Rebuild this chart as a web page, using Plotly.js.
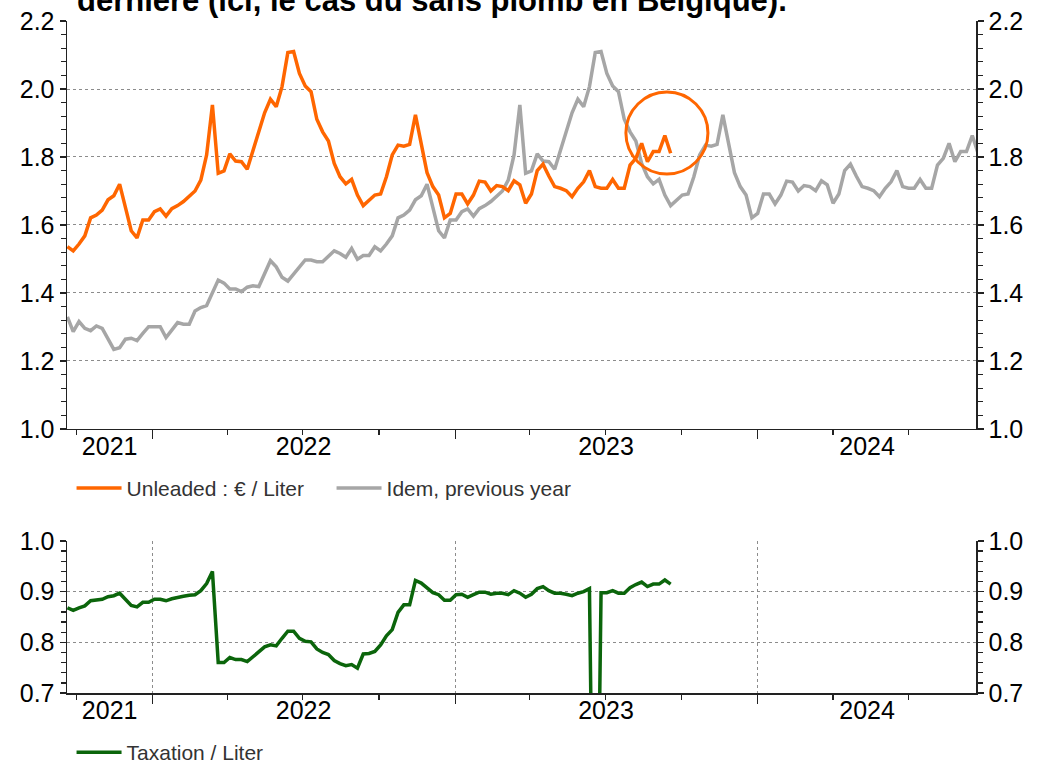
<!DOCTYPE html>
<html>
<head>
<meta charset="utf-8">
<script src="https://cdn.plot.ly/plotly-3.0.1.min.js"></script>
<style>
  html, body { margin: 0; padding: 0; background: #ffffff; }
  #chart { width: 1047px; height: 763px; }
</style>
</head>
<body>
<div id="chart"></div>
<script>
// ---------- DATA ----------
const startDate = '2021-09-20';           // first weekly observation shown
const unleaded = [1.536,1.524,1.544,1.568,1.621,1.629,1.644,1.674,1.686,1.72,
  1.652,1.583,1.562,1.615,1.615,1.639,1.647,1.626,1.648,1.657,
  1.669,1.683,1.70,1.732,1.806,1.953,1.752,1.759,1.809,1.788,
  1.786,1.764,1.821,1.879,1.93,1.97,1.948,2.007,2.107,2.11,
  2.046,2.009,1.992,1.911,1.874,1.847,1.781,1.742,1.721,1.734,
  1.688,1.657,1.674,1.688,1.691,1.742,1.806,1.835,1.832,1.837,
  1.924,1.84,1.754,1.713,1.688,1.621,1.634,1.691,1.691,1.662,
  1.688,1.729,1.726,1.70,1.716,1.713,1.701,1.73,1.718,1.664,
  1.691,1.76,1.779,1.744,1.713,1.708,1.701,1.683,1.708,1.727,
  1.76,1.713,1.708,1.708,1.734,1.708,1.708,1.776,1.796,1.84,
  1.786,1.816,1.816,1.863,1.811];
// previous-year values for the weeks before the unleaded series starts (Sep 2020 - Sep 2021)
const previousYearEarly = [1.330,1.286,1.316,1.296,1.289,1.303,1.296,1.264,1.234,1.239,
  1.264,1.267,1.26,1.281,1.301,1.301,1.301,1.269,1.293,1.313,
  1.308,1.308,1.347,1.357,1.363,1.401,1.438,1.429,1.412,1.412,
  1.404,1.417,1.421,1.419,1.458,1.495,1.477,1.446,1.435,1.456,
  1.477,1.497,1.497,1.492,1.492,1.509,1.524,1.516,1.505,1.531,
  1.499,1.51,1.51];
const taxation = [0.868,0.863,0.868,0.872,0.882,0.883,0.885,0.890,0.892,0.897,
  0.884,0.873,0.870,0.879,0.879,0.885,0.885,0.882,0.886,0.889,
  0.891,0.893,0.894,0.902,0.916,0.940,0.760,0.760,0.770,0.766,
  0.766,0.762,0.772,0.782,0.791,0.795,0.793,0.808,0.822,0.822,
  0.808,0.802,0.801,0.787,0.780,0.776,0.764,0.758,0.754,0.756,
  0.749,0.777,0.778,0.782,0.795,0.813,0.825,0.859,0.874,0.874,
  0.922,0.917,0.907,0.898,0.894,0.883,0.883,0.894,0.895,0.889,
  0.894,0.899,0.899,0.895,0.897,0.897,0.894,0.902,0.897,0.889,
  0.895,0.906,0.910,0.902,0.897,0.897,0.895,0.892,0.897,0.900,
  0.906,0,0.898,0.898,0.902,0.897,0.897,0.908,0.914,0.919,
  0.910,0.915,0.915,0.923,0.915];
const yearBounds = ['2022-01-01','2023-01-01','2024-01-01'];
const yearLabelDates = ['2021-11-10','2022-07-02','2023-07-02','2024-05-12'];
const yearLabels = ['2021','2022','2023','2024'];
const titleText = 'dernière (ici, le cas du sans plomb en Belgique).';
const nameUnleaded = 'Unleaded : € / Liter';
const namePrev = 'Idem, previous year';
const nameTax = 'Taxation / Liter';

// ---------- BUILD ----------
const previousYear = previousYearEarly.concat(unleaded);
function weekly(n) {
  const out = [];
  const d0 = new Date(startDate + 'T00:00:00Z');
  for (let i = 0; i < n; i++) {
    const d = new Date(d0.getTime() + i * 7 * 86400000);
    out.push(d.toISOString().slice(0, 10));
  }
  return out;
}
const datesMain = weekly(unleaded.length);
const datesPrev = weekly(previousYear.length);

const FONT = "'Liberation Sans', Arial, sans-serif";
const xRange = ['2021-09-19 12:00', '2024-09-20 12:00'];
const AX = '#222222';
const GRID = '#8c8c8c';

// helper traces that only make the overlaying label axes exist (draw nothing)
const holder = (xa, ya) => ({ x: [datesMain[0]], y: [null], type: 'scatter', mode: 'lines',
  xaxis: xa, yaxis: ya, showlegend: false, hoverinfo: 'skip' });

const traces = [
  { x: datesPrev, y: previousYear, type: 'scatter', mode: 'lines', name: namePrev,
    line: { color: '#a6a6a6', width: 3.5 }, xaxis: 'x', yaxis: 'y', legend: 'legend', legendrank: 2 },
  { x: datesMain, y: unleaded, type: 'scatter', mode: 'lines', name: nameUnleaded,
    line: { color: '#ff6600', width: 3.5 }, xaxis: 'x', yaxis: 'y', legend: 'legend', legendrank: 1 },
  { x: datesMain, y: taxation, type: 'scatter', mode: 'lines', name: nameTax,
    line: { color: '#0b650b', width: 3.5 }, xaxis: 'x2', yaxis: 'y3', legend: 'legend2' },
  holder('x3', 'y'), holder('x', 'y2'), holder('x4', 'y3'), holder('x2', 'y4')
];

const xBase = (anchor, grid) => ({
  type: 'date', range: xRange, anchor: anchor,
  tickmode: 'array', tickvals: yearBounds, ticks: 'outside', ticklen: 9, tickwidth: 1.3, tickcolor: AX,
  showticklabels: false, showgrid: grid, gridcolor: GRID, griddash: 'dot', gridwidth: 1,
  showline: true, linecolor: AX, linewidth: 1.5, zeroline: false,
  minor: { tickmode: 'linear', tick0: '2021-01-01', dtick: 'M3', ticks: 'outside', ticklen: 5, tickwidth: 1.3, tickcolor: AX, showgrid: false }
});
const xLabels = (over, anchor) => ({
  type: 'date', range: xRange, overlaying: over, anchor: anchor,
  tickmode: 'array', tickvals: yearLabelDates, ticktext: yearLabels, ticks: '',
  showline: false, showgrid: false, zeroline: false,
  tickfont: { family: FONT, size: 25, color: '#000' }
});
const yAxis = (range, dtick, mdtick, side, over, anchor, grid, domain) => {
  const a = {
    range: range, dtick: dtick, tick0: 0, side: side, anchor: anchor,
    ticks: 'outside', ticklen: 6, tickwidth: 1.3, tickcolor: AX, tickformat: '.1f',
    showline: true, linecolor: AX, linewidth: 1.5, zeroline: false,
    showgrid: grid, gridcolor: GRID, griddash: 'dot', gridwidth: 1,
    tickfont: { family: FONT, size: 25, color: '#000' },
    minor: { dtick: mdtick, tick0: 0, ticks: 'outside', ticklen: 5, tickwidth: 1.3, tickcolor: AX, showgrid: false }
  };
  if (over) a.overlaying = over; else a.domain = domain;
  return a;
};

const layout = {
  width: 1047, height: 763,
  margin: { l: 67, r: 71, t: 21, b: 70, autoexpand: false },
  paper_bgcolor: '#ffffff', plot_bgcolor: '#ffffff',
  font: { family: FONT, size: 21, color: '#222' },
  showlegend: true,
  xaxis: xBase('y', false),
  xaxis3: xLabels('x', 'y'),
  xaxis2: xBase('y3', true),
  xaxis4: xLabels('x2', 'y3'),
  yaxis: yAxis([1.0, 2.2], 0.2, 0.04, 'left', null, 'x', true, [0.3929, 1]),
  yaxis2: yAxis([1.0, 2.2], 0.2, 0.04, 'right', 'y', 'x', false),
  yaxis3: yAxis([0.7, 1.0], 0.1, 0.02, 'left', null, 'x2', true, [0, 0.2262]),
  yaxis4: yAxis([0.7, 1.0], 0.1, 0.02, 'right', 'y3', 'x2', false),
  legend: {
    orientation: 'h', x: 0.005, xanchor: 'left', y: 0.335, yanchor: 'top',
    font: { family: FONT, size: 21, color: '#333' }, bgcolor: 'rgba(0,0,0,0)',
    entrywidth: 200, entrywidthmode: 'pixels', itemwidth: 45, traceorder: 'normal'
  },
  legend2: {
    orientation: 'h', x: 0.005, xanchor: 'left', y: -0.058, yanchor: 'top',
    font: { family: FONT, size: 21, color: '#333' }, bgcolor: 'rgba(0,0,0,0)', itemwidth: 45
  },
  shapes: [
    { type: 'circle', xref: 'x', yref: 'y', x0: '2023-07-26', x1: '2023-11-02', y0: 1.75, y1: 1.991,
      line: { color: '#ff6600', width: 3 } }
  ],
  annotations: [
    { text: titleText, xref: 'paper', yref: 'paper', x: 0.0088, y: 1.002, xanchor: 'left', yanchor: 'bottom',
      showarrow: false, font: { family: FONT, size: 31, color: '#000', weight: 'bold' } }
  ]
};

Plotly.newPlot('chart', traces, layout, { displayModeBar: false, staticPlot: true });
</script>
</body>
</html>
